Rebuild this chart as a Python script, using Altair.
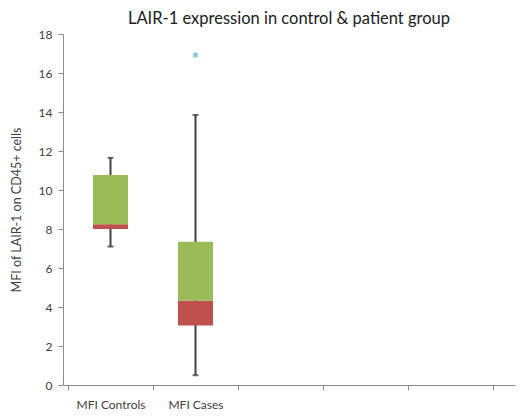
import altair as alt
import pandas as pd

categories = ["MFI Controls", "MFI Cases"]
whisker_low = [7.1, 0.5]
q1 = [8.0, 3.05]
median = [8.25, 4.32]
q3 = [10.77, 7.35]
whisker_high = [11.65, 13.85]
outlier_cat = ["MFI Cases"]
outlier_val = [16.92]

FONT = "Lato"
pos = {c: i + 0.5 for i, c in enumerate(categories)}
df = pd.DataFrame({
    "cat": categories,
    "x": [pos[c] for c in categories],
    "lo": whisker_low, "q1": q1, "med": median, "q3": q3, "hi": whisker_high,
})
out = pd.DataFrame({"cat": outlier_cat, "x": [pos[c] for c in outlier_cat], "v": outlier_val})

xscale = alt.Scale(domain=[0, 5.2], nice=False, zero=False)
yscale = alt.Scale(domain=[0, 18], nice=False)

xaxis_ticks = alt.Axis(values=[0, 1, 2, 3, 4, 5], labels=False, title=None, grid=False,
                       domainColor="#8c8c8c", tickColor="#8c8c8c", tickSize=5, orient="bottom")
xaxis_labels = alt.Axis(values=[0.5, 1.5], title=None, grid=False, domain=False, ticks=False,
                        labelExpr="datum.value < 1 ? '%s' : '%s'" % (categories[0], categories[1]),
                        labelFont=FONT, labelFontSize=12, labelColor="#404040", labelPadding=14,
                        orient="bottom")
yaxis = alt.Axis(values=[0, 2, 4, 6, 8, 10, 12, 14, 16, 18], title="MFI of LAIR-1 on CD45+ cells",
                 grid=False, domainColor="#8c8c8c", tickColor="#8c8c8c", tickSize=5,
                 labelOverlap=False, labelFlush=False,
                 labelFont=FONT, labelFontSize=12, labelColor="#404040", labelPadding=6,
                 titleFont=FONT, titleFontSize=12.5, titleColor="#404040", titleFontWeight="normal",
                 titlePadding=15)


def Y(field):
    return alt.Y(field, scale=yscale, axis=yaxis)


base = alt.Chart(df)

whisk = base.mark_rule(color="#404040", strokeWidth=2).encode(
    x=alt.X("x:Q", scale=xscale, axis=xaxis_ticks),
    y=Y("lo:Q"), y2="hi:Q",
)
cap_lo = base.mark_tick(color="#303030", thickness=2, size=6, orient="horizontal").encode(
    x=alt.X("x:Q", scale=xscale, axis=None), y=Y("lo:Q"))
cap_hi = base.mark_tick(color="#303030", thickness=2, size=6, orient="horizontal").encode(
    x=alt.X("x:Q", scale=xscale, axis=None), y=Y("hi:Q"))
red = base.mark_bar(color="#C0504D", size=35).encode(
    x=alt.X("x:Q", scale=xscale, axis=xaxis_labels),
    y=Y("q1:Q"), y2="med:Q")
green = base.mark_bar(color="#9BBB59", size=35).encode(
    x=alt.X("x:Q", scale=xscale, axis=None),
    y=Y("med:Q"), y2="q3:Q")
pts = alt.Chart(out).mark_point(shape="cross", angle=45, filled=True, color="#4BACC6", size=30).encode(
    x=alt.X("x:Q", scale=xscale, axis=None), y=Y("v:Q"))

chart = alt.layer(whisk, cap_lo, cap_hi, red, green, pts).resolve_axis(x="independent").properties(
    width=452, height=351,
    autosize=alt.AutoSizeParams(type="none"),
    padding={"left": 55, "top": 26, "right": 4, "bottom": 26},
    title=alt.TitleParams("LAIR-1 expression in control & patient group", font=FONT, fontSize=16.5,
                          fontWeight="normal", color="#202020", anchor="middle", offset=1),
).configure_view(stroke=None)

chart.save("out.html", embed_options={"renderer": "svg", "actions": False})
